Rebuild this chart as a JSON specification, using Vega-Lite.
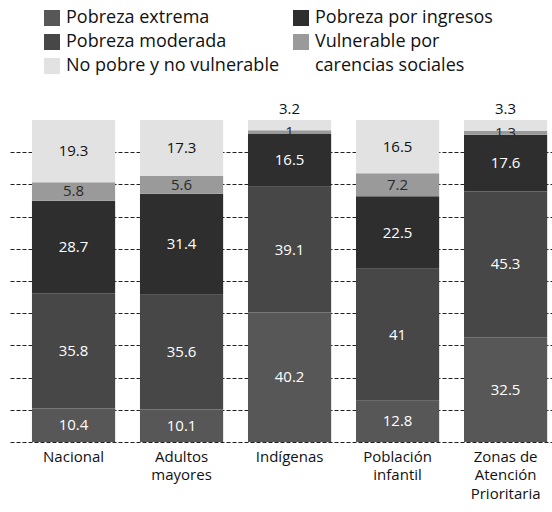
{
  "$schema": "https://vega.github.io/schema/vega-lite/v6.json",
  "width": 542,
  "height": 322,
  "autosize": {"type": "none"},
  "padding": {"left": 10, "top": 120, "right": 0, "bottom": 70},
  "background": "white",
  "config": {"view": {"stroke": null}, "font": "Open Sans"},
  "data": {"values": [
    {"cat": "Nacional", "serie": "Pobreza extrema", "k": 1, "v": 10.4},
    {"cat": "Nacional", "serie": "Pobreza moderada", "k": 2, "v": 35.8},
    {"cat": "Nacional", "serie": "Pobreza por ingresos", "k": 3, "v": 28.7},
    {"cat": "Nacional", "serie": "Vulnerable por carencias sociales", "k": 4, "v": 5.8},
    {"cat": "Nacional", "serie": "No pobre y no vulnerable", "k": 5, "v": 19.3},
    {"cat": "Adultos mayores", "serie": "Pobreza extrema", "k": 1, "v": 10.1},
    {"cat": "Adultos mayores", "serie": "Pobreza moderada", "k": 2, "v": 35.6},
    {"cat": "Adultos mayores", "serie": "Pobreza por ingresos", "k": 3, "v": 31.4},
    {"cat": "Adultos mayores", "serie": "Vulnerable por carencias sociales", "k": 4, "v": 5.6},
    {"cat": "Adultos mayores", "serie": "No pobre y no vulnerable", "k": 5, "v": 17.3},
    {"cat": "Indígenas", "serie": "Pobreza extrema", "k": 1, "v": 40.2},
    {"cat": "Indígenas", "serie": "Pobreza moderada", "k": 2, "v": 39.1},
    {"cat": "Indígenas", "serie": "Pobreza por ingresos", "k": 3, "v": 16.5},
    {"cat": "Indígenas", "serie": "Vulnerable por carencias sociales", "k": 4, "v": 1},
    {"cat": "Indígenas", "serie": "No pobre y no vulnerable", "k": 5, "v": 3.2},
    {"cat": "Población infantil", "serie": "Pobreza extrema", "k": 1, "v": 12.8},
    {"cat": "Población infantil", "serie": "Pobreza moderada", "k": 2, "v": 41},
    {"cat": "Población infantil", "serie": "Pobreza por ingresos", "k": 3, "v": 22.5},
    {"cat": "Población infantil", "serie": "Vulnerable por carencias sociales", "k": 4, "v": 7.2},
    {"cat": "Población infantil", "serie": "No pobre y no vulnerable", "k": 5, "v": 16.5},
    {"cat": "Zonas de Atención Prioritaria", "serie": "Pobreza extrema", "k": 1, "v": 32.5},
    {"cat": "Zonas de Atención Prioritaria", "serie": "Pobreza moderada", "k": 2, "v": 45.3},
    {"cat": "Zonas de Atención Prioritaria", "serie": "Pobreza por ingresos", "k": 3, "v": 17.6},
    {"cat": "Zonas de Atención Prioritaria", "serie": "Vulnerable por carencias sociales", "k": 4, "v": 1.3},
    {"cat": "Zonas de Atención Prioritaria", "serie": "No pobre y no vulnerable", "k": 5, "v": 3.3}
  ]},
  "transform": [
    {"stack": "v", "groupby": ["cat"], "sort": [{"field": "k", "order": "ascending"}], "as": ["y0", "y1"]},
    {"calculate": "datum.k == 5 && datum.v < 5 ? 103.5 : (datum.y0 + datum.y1) / 2", "as": "ym"}
  ],
  "encoding": {
    "x": {
      "field": "cat", "type": "nominal", "sort": null, "title": null,
      "scale": {"paddingInner": 0.23, "paddingOuter": 0.124, "align": 0.82},
      "axis": {
        "domain": false, "ticks": false, "labelAngle": 0, "labelPadding": 7,
        "labelFont": "Open Sans", "labelFontSize": 15, "labelColor": "#111", "labelLineHeight": 18.5,
        "labelBaseline": "top",
        "labelExpr": "datum.value == 'Adultos mayores' ? ['Adultos','mayores'] : datum.value == 'Población infantil' ? ['Población','infantil'] : datum.value == 'Zonas de Atención Prioritaria' ? ['Zonas de','Atención','Prioritaria'] : datum.label"
      }
    }
  },
  "layer": [
    {
      "mark": {"type": "bar", "stroke": null},
      "encoding": {
        "y": {
          "field": "y0", "type": "quantitative", "title": null,
          "scale": {"domain": [0, 100], "nice": false},
          "axis": {
            "labels": false, "ticks": false, "domain": false, "grid": true,
            "values": [0, 10, 20, 30, 40, 50, 60, 70, 80, 90],
            "gridColor": "#222", "gridDash": [4, 2], "gridWidth": 1.2
          }
        },
        "y2": {"field": "y1"},
        "color": {
          "field": "serie", "type": "nominal",
          "scale": {
            "domain": ["Pobreza extrema", "Pobreza por ingresos", "Pobreza moderada", "Vulnerable por carencias sociales", "No pobre y no vulnerable", "_c"],
            "range": ["#575757", "#2e2e2e", "#474747", "#9a9a9a", "#e2e2e2", "#ffffff"]
          },
          "legend": {
            "title": null, "orient": "none", "legendX": 33, "legendY": -111,
            "direction": "horizontal", "columns": 2, "columnPadding": 12, "rowPadding": 6,
            "padding": 0, "symbolType": "square", "symbolSize": 256, "symbolStrokeWidth": 0,
            "labelFont": "Open Sans", "labelFontSize": 18, "labelColor": "#111", "labelOffset": 5,
            "labelLimit": 400,
            "labelExpr": "datum.value == 'Vulnerable por carencias sociales' ? 'Vulnerable por' : datum.value == '_c' ? 'carencias sociales' : datum.label",
            "encode": {
              "symbols": {"update": {"opacity": {"signal": "datum.value == '_c' ? 0 : 1"}}},
              "labels": {"update": {"dx": {"signal": "datum.value == '_c' ? -13 : 0"}}}
            }
          }
        },
        "order": {"field": "k"}
      }
    },
    {
      "mark": {"type": "text", "font": "Open Sans", "fontSize": 15, "baseline": "middle"},
      "encoding": {
        "y": {
          "field": "ym", "type": "quantitative", "title": null,
          "axis": {
            "labels": false, "ticks": false, "domain": false, "grid": true,
            "values": [0, 10, 20, 30, 40, 50, 60, 70, 80, 90],
            "gridColor": "#222", "gridDash": [4, 2], "gridWidth": 1.2
          }
        },
        "text": {"field": "v", "type": "quantitative"},
        "color": {
          "condition": [
            {"test": "datum.k == 5", "value": "#111111"},
            {"test": "datum.k == 4", "value": "#2a2a2a"}
          ],
          "value": "#ffffff"
        }
      }
    }
  ]
}
